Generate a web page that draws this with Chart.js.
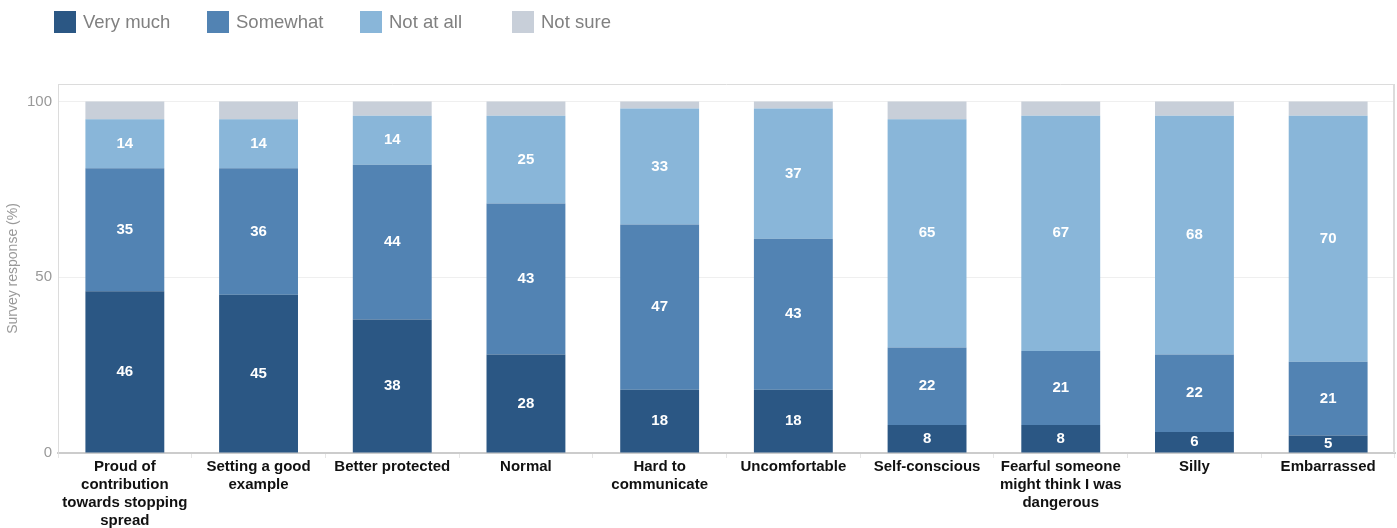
<!DOCTYPE html>
<html>
<head>
<meta charset="utf-8">
<script src="https://cdn.jsdelivr.net/npm/chart.js@4/dist/chart.umd.min.js"></script>
<style>
  html, body { margin: 0; padding: 0; background: #fff; }
  #wrap { position: relative; width: 1397px; height: 528px; }
  #chart { position: absolute; left: 0; top: 0; }
  .lg { position: absolute; top: 11px; height: 22px; font-family: "Liberation Sans", Arial, sans-serif; font-size: 18.5px; color: #808080; }
  .lg span.sw { position: absolute; left: 0; top: 0; width: 22px; height: 22px; }
  .lg span.tx { position: absolute; left: 29px; top: 0px; white-space: nowrap; line-height: 22px; }
</style>
</head>
<body>
<div id="wrap">
  <canvas id="chart" width="1397" height="528"></canvas>
  <div id="legend"></div>
</div>
<script>
const categories = [
  ["Proud of", "contribution", "towards stopping", "spread"],
  ["Setting a good", "example"],
  ["Better protected"],
  ["Normal"],
  ["Hard to", "communicate"],
  ["Uncomfortable"],
  ["Self-conscious"],
  ["Fearful someone", "might think I was", "dangerous"],
  ["Silly"],
  ["Embarrassed"]
];
const seriesNames = ["Very much", "Somewhat", "Not at all", "Not sure"];
const veryMuch = [46, 45, 38, 28, 18, 18, 8, 8, 6, 5];
const somewhat = [35, 36, 44, 43, 47, 43, 22, 21, 22, 21];
const notAtAll = [14, 14, 14, 25, 33, 37, 65, 67, 68, 70];
const notSure  = [5, 5, 4, 4, 2, 2, 5, 4, 4, 4];
const yTicks = [0, 50, 100];

const colors = ["#2b5784", "#5283b3", "#89b6d9", "#c8cfd9"];
const FONT = '"Liberation Sans", Arial, sans-serif';

// HTML legend
const legendX = [54, 207, 360, 512];
const lg = document.getElementById('legend');
seriesNames.forEach((n, i) => {
  const d = document.createElement('div');
  d.className = 'lg';
  d.style.left = legendX[i] + 'px';
  d.innerHTML = '<span class="sw" style="background:' + colors[i] + '"></span><span class="tx">' + n + '</span>';
  lg.appendChild(d);
});

const labelPlugin = {
  id: 'segLabels',
  afterDatasetsDraw(chart) {
    const ctx = chart.ctx;
    ctx.save();
    ctx.font = 'bold 15px ' + FONT;
    ctx.fillStyle = '#ffffff';
    ctx.textAlign = 'center';
    ctx.textBaseline = 'middle';
    for (let di = 0; di < 3; di++) {
      const meta = chart.getDatasetMeta(di);
      meta.data.forEach((bar, i) => {
        const v = chart.data.datasets[di].data[i];
        const p = bar.getProps(['x', 'y', 'base'], true);
        ctx.fillText(String(v), p.x, (p.y + p.base) / 2);
      });
    }
    ctx.restore();
  }
};

const framePlugin = {
  id: 'frame',
  beforeDatasetsDraw(chart) {
    const a = chart.chartArea, ctx = chart.ctx;
    ctx.save();
    ctx.strokeStyle = '#dcdcdc';
    ctx.lineWidth = 1;
    ctx.beginPath();
    ctx.moveTo(a.left, a.top + 0.5);
    ctx.lineTo(a.right, a.top + 0.5);
    ctx.stroke();
    ctx.lineWidth = 2;
    ctx.beginPath();
    ctx.moveTo(a.right - 1, a.top);
    ctx.lineTo(a.right - 1, a.bottom);
    ctx.stroke();
    ctx.restore();
  }
};

const seriesData = [veryMuch, somewhat, notAtAll, notSure];

new Chart(document.getElementById('chart'), {
  type: 'bar',
  data: {
    labels: categories,
    datasets: seriesNames.map((n, i) => ({
      label: n,
      data: seriesData[i],
      backgroundColor: colors[i],
      borderWidth: 0,
      barPercentage: 0.59,
      categoryPercentage: 1.0
    }))
  },
  options: {
    responsive: false,
    animation: false,
    layout: { padding: { top: 84, right: 2, left: 0, bottom: 0 } },
    plugins: { legend: { display: false }, tooltip: { enabled: false } },
    scales: {
      x: {
        stacked: true,
        grid: { drawOnChartArea: false, drawTicks: true, tickLength: 5, color: '#e6e6e6', offset: true },
        border: { color: '#cccccc', width: 2 },
        ticks: {
          color: '#111111',
          font: { family: FONT, size: 15, weight: 'bold', lineHeight: 1.2 },
          padding: 0,
          maxRotation: 0,
          autoSkip: false
        },
        afterFit(scale) { scale.height = 75; }
      },
      y: {
        stacked: true,
        min: 0,
        max: 105,
        afterBuildTicks(scale) { scale.ticks = yTicks.map(v => ({ value: v })); },
        grid: { color: (c) => c.tick && c.tick.value === 0 ? 'rgba(0,0,0,0)' : '#efefef', drawTicks: false },
        border: { color: '#dcdcdc', width: 1 },
        ticks: {
          color: '#999999',
          font: { family: FONT, size: 15 },
          padding: 6
        },
        title: {
          display: true,
          text: 'Survey response (%)',
          color: '#999999',
          font: { family: FONT, size: 14 },
          padding: { top: 5, bottom: 0 }
        },
        afterFit(scale) { scale.width = 58; }
      }
    }
  },
  plugins: [framePlugin, labelPlugin]
});
</script>
</body>
</html>
